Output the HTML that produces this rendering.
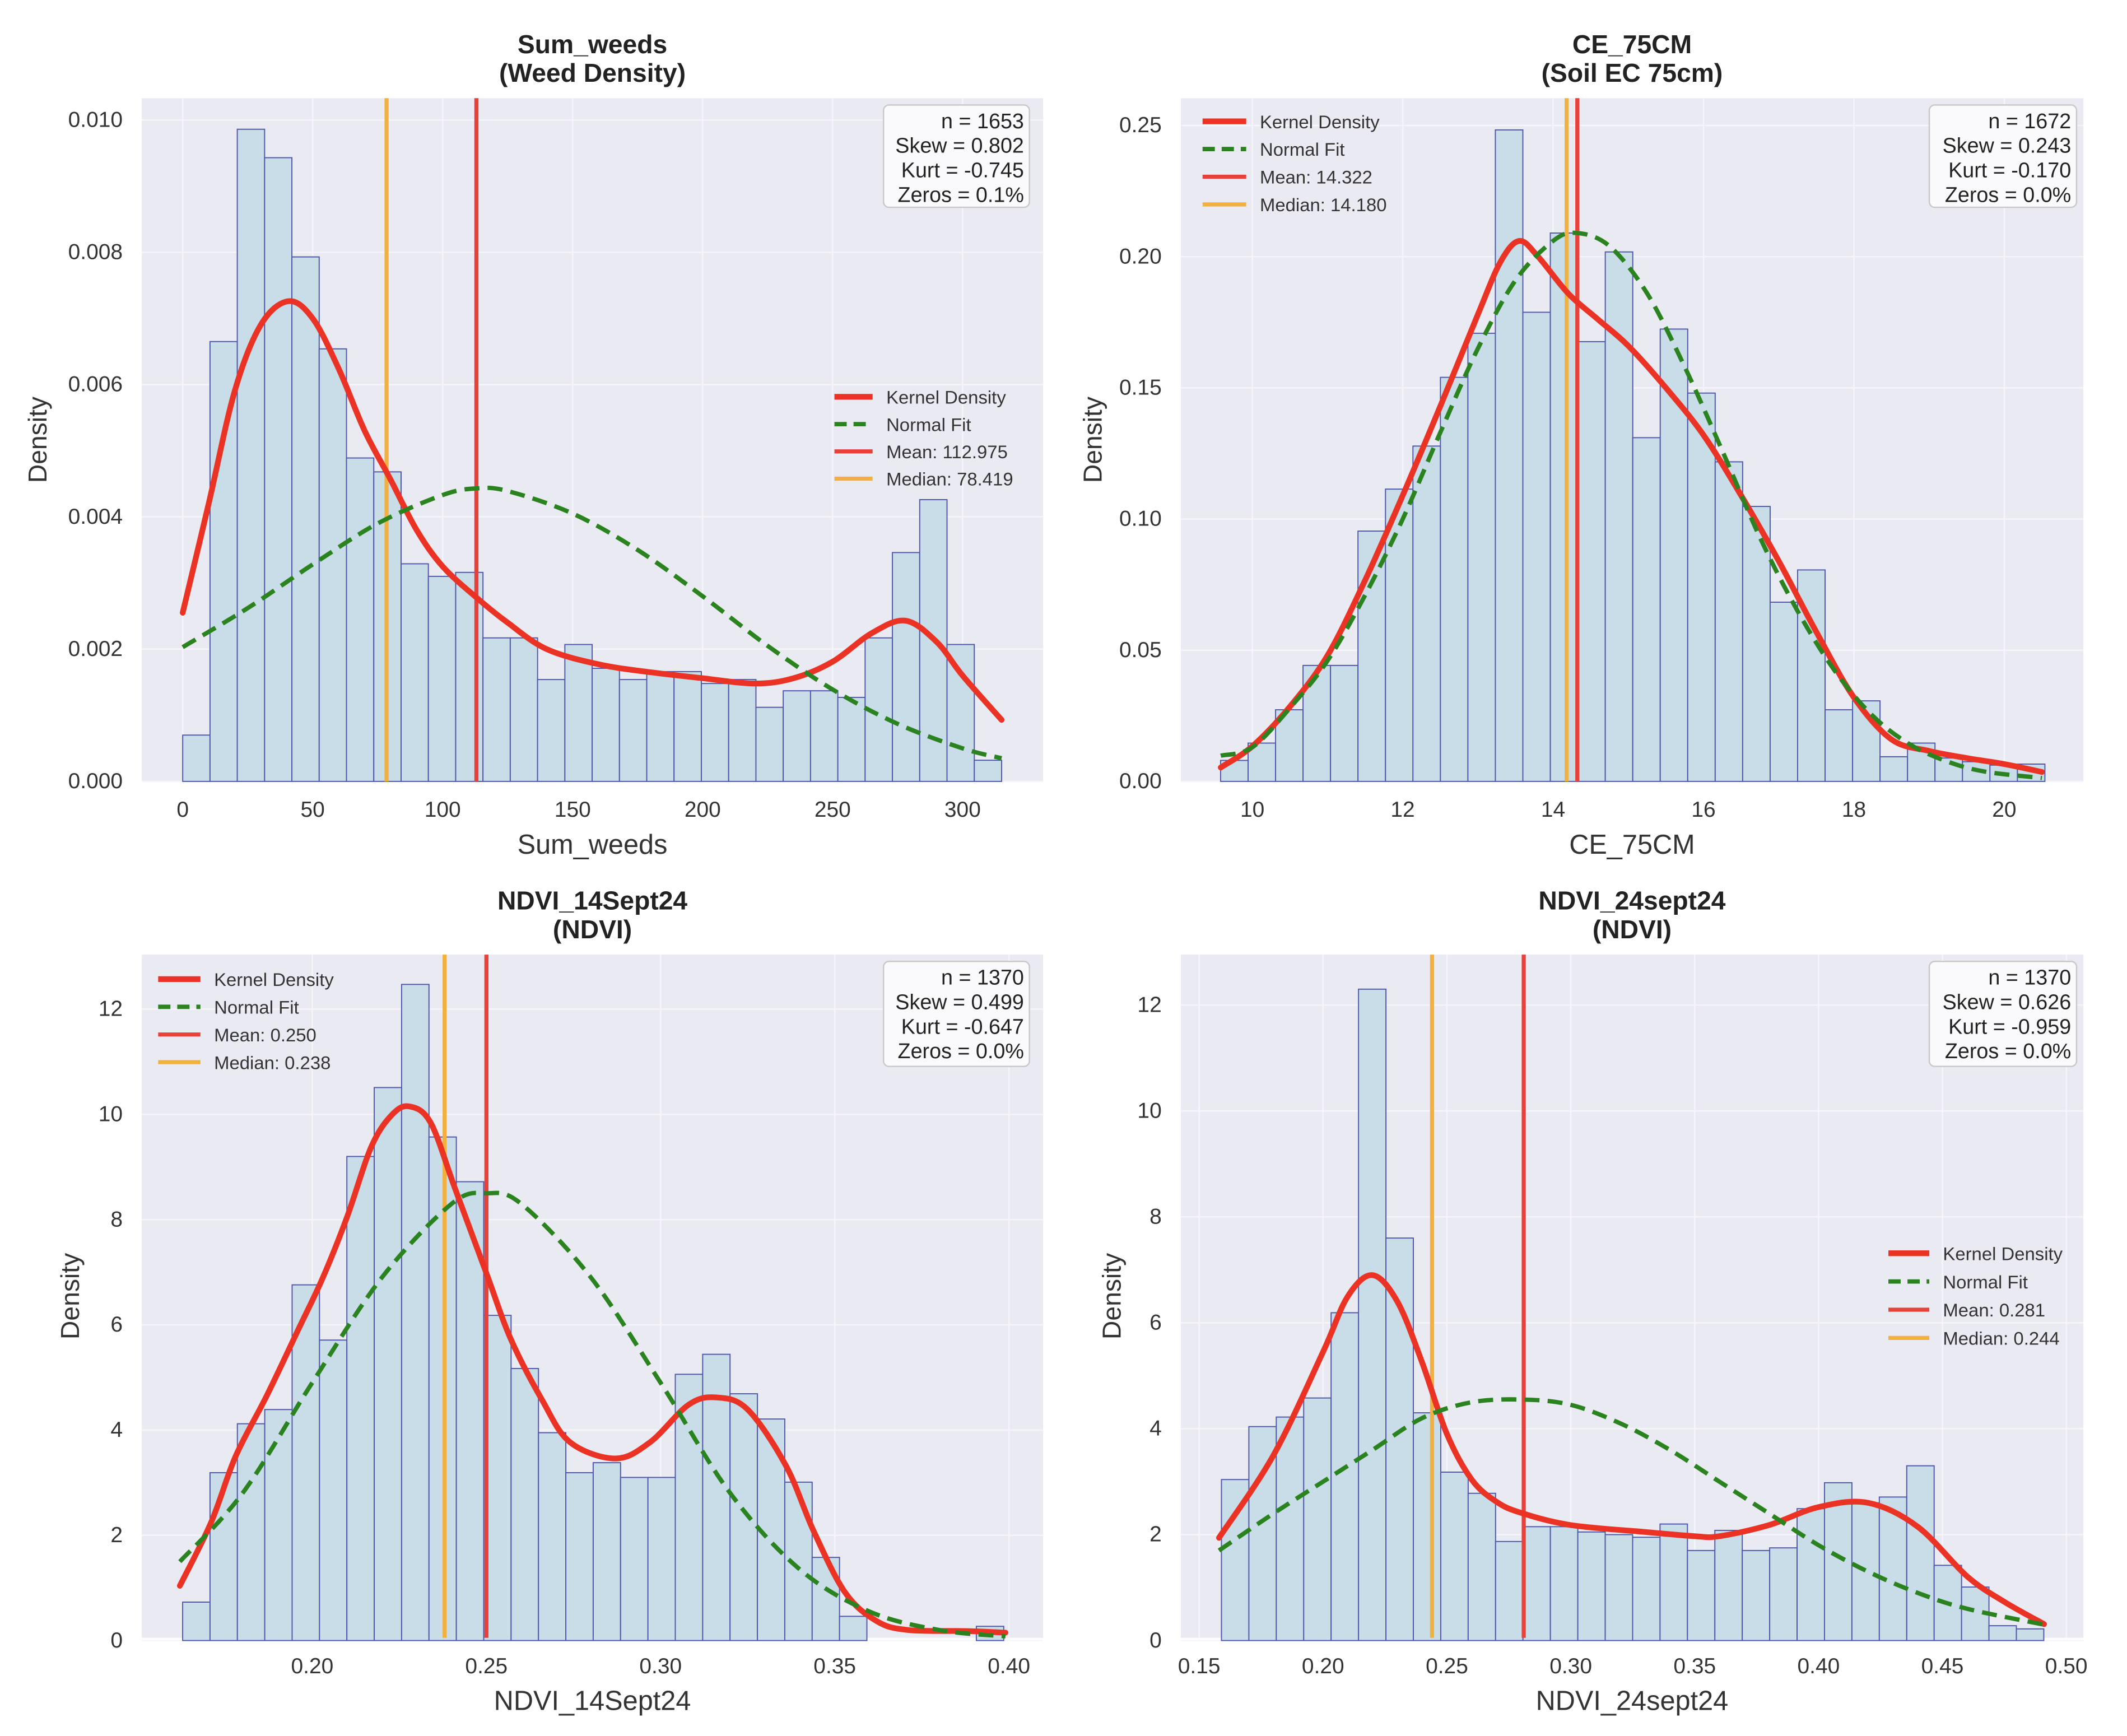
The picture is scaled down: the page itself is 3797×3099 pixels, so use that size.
<!DOCTYPE html>
<html><head><meta charset="utf-8"><style>
html,body{margin:0;padding:0;background:#fff;}
svg{display:block;font-family:"Liberation Sans",sans-serif;}
</style></head><body>
<svg id="fig" width="3797" height="3099" viewBox="0 0 1560 1273" preserveAspectRatio="none" xmlns="http://www.w3.org/2000/svg"></svg>
<script>
// ---------- Panel 1: Sum_weeds ----------
const p1Bars = [0.70,6.65,9.86,9.43,7.93,6.54,4.89,4.68,3.29,3.10,3.16,2.17,2.17,1.54,2.07,1.71,1.54,1.66,1.66,1.48,1.54,1.12,1.37,1.37,1.27,2.17,3.46,4.26,2.07,0.32];
const p1KdeX = [0,10,20,30,40.6,50,60,70,80,90,100,113,125,140,160,180,200,220,235,250,265,278,290,300,315];
const p1KdeY = [2.55,4.2,5.9,6.9,7.26,7.0,6.24,5.3,4.56,3.8,3.25,2.78,2.4,2.0,1.77,1.65,1.56,1.48,1.56,1.81,2.24,2.43,2.11,1.6,0.93];
const p1NormX = [0,25,50,75,100,113,125,150,175,200,225,250,275,300,315];
const p1NormY = [2.03,2.62,3.28,3.9,4.33,4.43,4.39,4.05,3.5,2.8,2.05,1.39,0.87,0.5,0.35];
const p1Stats = ["n = 1653","Skew = 0.802","Kurt = -0.745","Zeros = 0.1%"];
const p1Legend = ["Kernel Density","Normal Fit","Mean: 112.975","Median: 78.419"];
const p1XTicks = [0,50,100,150,200,250,300];
const p1YTicks = [0,0.002,0.004,0.006,0.008,0.010];
// ---------- Panel 2: CE_75CM ----------
const p2Bars = [0.008,0.0146,0.0273,0.0442,0.0442,0.0954,0.1114,0.1278,0.154,0.1708,0.2483,0.1788,0.209,0.1676,0.2018,0.131,0.1724,0.148,0.1218,0.1048,0.0683,0.0806,0.0273,0.0307,0.0094,0.0146,0.0089,0.0075,0.0062,0.0066];
const p2KdeX = [9.58,10,10.5,11,11.5,12,12.5,13,13.3,13.55,13.8,14.2,14.6,15,15.5,16,16.5,17,17.5,18,18.5,19,19.5,20,20.5];
const p2KdeY = [0.0053,0.0134,0.0285,0.048,0.0767,0.109,0.143,0.178,0.198,0.206,0.200,0.186,0.176,0.166,0.150,0.132,0.109,0.084,0.057,0.032,0.016,0.0116,0.0089,0.0066,0.0036];
const p2NormX = [9.58,10,10.5,11,11.5,12,12.5,13,13.5,14,14.32,14.75,15.25,15.75,16.25,16.75,17.25,17.75,18.25,18.75,19.25,19.75,20.5];
const p2NormY = [0.0098,0.013,0.028,0.046,0.071,0.10,0.133,0.165,0.191,0.206,0.209,0.204,0.186,0.158,0.126,0.093,0.065,0.042,0.025,0.014,0.0075,0.0037,0.0013];
const p2Stats = ["n = 1672","Skew = 0.243","Kurt = -0.170","Zeros = 0.0%"];
const p2Legend = ["Kernel Density","Normal Fit","Mean: 14.322","Median: 14.180"];
const p2XTicks = [10,12,14,16,18,20];
const p2YTicks = [0,0.05,0.10,0.15,0.20,0.25];
// ---------- Panel 3: NDVI_14Sept24 ----------
const p3Bars = [0.73,3.19,4.12,4.39,6.76,5.71,9.2,10.51,12.47,9.57,8.72,6.18,5.17,3.95,3.19,3.38,3.10,3.10,5.06,5.44,4.69,4.21,3.01,1.58,0.46,0,0,0,0,0.27];
const p3KdeX = [0.162,0.171,0.178,0.187,0.196,0.203,0.210,0.217,0.223,0.228,0.234,0.241,0.250,0.257,0.266,0.274,0.287,0.297,0.308,0.316,0.325,0.336,0.344,0.353,0.362,0.371,0.388,0.399];
const p3KdeY = [1.04,2.25,3.5,4.66,5.91,6.89,8.05,9.39,10.0,10.15,9.84,8.59,6.98,5.73,4.57,3.77,3.46,3.77,4.48,4.62,4.39,3.32,2.07,0.91,0.37,0.2,0.18,0.15];
const p3NormX = [0.162,0.18,0.20,0.22,0.24,0.25,0.26,0.28,0.30,0.32,0.34,0.36,0.38,0.399];
const p3NormY = [1.5,2.8,4.9,6.9,8.3,8.5,8.3,6.9,4.9,2.8,1.35,0.55,0.2,0.08];
const p3Stats = ["n = 1370","Skew = 0.499","Kurt = -0.647","Zeros = 0.0%"];
const p3Legend = ["Kernel Density","Normal Fit","Mean: 0.250","Median: 0.238"];
const p3XTicks = [0.20,0.25,0.30,0.35,0.40];
const p3YTicks = [0,2,4,6,8,10,12];
// ---------- Panel 4: NDVI_24sept24 ----------
const p4Bars = [3.04,4.04,4.22,4.58,6.19,12.3,7.6,4.3,3.18,2.78,1.87,2.15,2.15,2.05,2.0,1.95,2.2,1.70,2.08,1.70,1.75,2.49,2.98,2.6,2.71,3.30,1.42,1.01,0.28,0.22];
const p4KdeX = [0.158,0.18,0.20,0.21,0.22,0.23,0.24,0.25,0.26,0.27,0.28,0.30,0.33,0.35,0.36,0.38,0.40,0.42,0.44,0.46,0.475,0.491];
const p4KdeY = [1.94,3.5,5.45,6.5,6.9,6.4,5.25,3.9,3.04,2.62,2.41,2.18,2.05,1.97,1.97,2.18,2.52,2.6,2.15,1.21,0.73,0.31];
const p4NormX = [0.158,0.18,0.20,0.22,0.24,0.26,0.281,0.30,0.32,0.34,0.36,0.38,0.40,0.42,0.44,0.46,0.491];
const p4NormY = [1.7,2.4,3.0,3.6,4.2,4.5,4.55,4.45,4.1,3.6,3.0,2.4,1.8,1.3,0.9,0.6,0.3];
const p4Stats = ["n = 1370","Skew = 0.626","Kurt = -0.959","Zeros = 0.0%"];
const p4Legend = ["Kernel Density","Normal Fit","Mean: 0.281","Median: 0.244"];
const p4XTicks = [0.15,0.20,0.25,0.30,0.35,0.40,0.45,0.50];
const p4YTicks = [0,2,4,6,8,10,12];

const NS = "http://www.w3.org/2000/svg";
const svg = document.getElementById('fig');
function mk(tag, attrs, parent, text){
  const e = document.createElementNS(NS, tag);
  for (const k in attrs) e.setAttribute(k, attrs[k]);
  if (text !== undefined) e.textContent = text;
  (parent||svg).appendChild(e);
  return e;
}
function linmap(d0,d1,r0,r1){ return v => r0 + (v-d0)*(r1-r0)/(d1-d0); }

function panel(cfg){
  const g = mk('g', {});
  
  
  const xs = linmap(cfg.xd[0], cfg.xd[1], cfg.xr[0], cfg.xr[1]);
  const ys = linmap(cfg.yd[0], cfg.yd[1], cfg.yr[0], cfg.yr[1]);
  const L=cfg.box[0], T=cfg.box[1], R=cfg.box[2], B=cfg.box[3];
  const bg = mk('rect', {x:L,y:T,width:R-L,height:B-T,fill:'#eaeaf2'}, g);
  
  
  cfg.xTicks.forEach(t=>{
    const gl = mk('line',{x1:xs(t),x2:xs(t),y1:T,y2:B,stroke:'#f6f6fa','stroke-width':1}, g);
    
    
    const tl = mk('text',{x:xs(t),y:B+26,'font-size':16,fill:'#333','text-anchor':'middle'}, g, cfg.xfmt(t));
    
    
  });
  cfg.yTicks.forEach(t=>{
    const gl = mk('line',{x1:L,x2:R,y1:ys(t),y2:ys(t),stroke:'#f6f6fa','stroke-width':1}, g);
    
    
    const tl = mk('text',{x:L-14,y:ys(t)+5,'font-size':16,fill:'#333','text-anchor':'end'}, g, cfg.yfmt(t));
    
    
  });
  const bw = (cfg.binEnd - cfg.binStart)/cfg.bars.length;
  cfg.bars.forEach((v,i)=>{
    if (v<=0) return;
    const x0 = xs(cfg.binStart + i*bw), x1 = xs(cfg.binStart + (i+1)*bw);
    const r = mk('rect',{x:x0,y:ys(v),width:x1-x0,height:ys(0)-ys(v),fill:'#c9dde9',stroke:'#5158a8','stroke-width':0.8}, g);
    
    
  });
  function smooth(X,Y){
    const P = X.map((x,i)=>[xs(x),ys(Y[i])]);
    let d = 'M'+P[0][0]+','+P[0][1];
    for (let i=0;i<P.length-1;i++){
      const p0=P[Math.max(0,i-1)],p1=P[i],p2=P[i+1],p3=P[Math.min(P.length-1,i+2)];
      const c1=[p1[0]+(p2[0]-p0[0])/6,p1[1]+(p2[1]-p0[1])/6];
      const c2=[p2[0]-(p3[0]-p1[0])/6,p2[1]-(p3[1]-p1[1])/6];
      d+=' C'+c1[0].toFixed(2)+','+c1[1].toFixed(2)+' '+c2[0].toFixed(2)+','+c2[1].toFixed(2)+' '+p2[0].toFixed(2)+','+p2[1].toFixed(2);
    }
    return d;
  }
  const med = mk('line',{x1:xs(cfg.median),x2:xs(cfg.median),y1:T,y2:B,stroke:'#f2b13f','stroke-width':3}, g);
  
  
  const mn = mk('line',{x1:xs(cfg.mean),x2:xs(cfg.mean),y1:T,y2:B,stroke:'#e8413a','stroke-width':3}, g);
  
  
  const kd = mk('path',{d:smooth(cfg.kdeX,cfg.kdeY),fill:'none',stroke:'#ea3324','stroke-width':4.2,'stroke-linecap':'round'}, g);
  
  
  const nf = mk('path',{d:smooth(cfg.normX,cfg.normY),fill:'none',stroke:'#2b8320','stroke-width':3.2,'stroke-dasharray':'11,6'}, g);
  
  
  const t1 = mk('text',{x:(L+R)/2,y:T-33,'font-size':19,'font-weight':'bold',fill:'#222','text-anchor':'middle'}, g, cfg.title1);
  
  
  const t2 = mk('text',{x:(L+R)/2,y:T-12,'font-size':19,'font-weight':'bold',fill:'#222','text-anchor':'middle'}, g, cfg.title2);
  
  
  const xl = mk('text',{x:(L+R)/2,y:B+53,'font-size':20,fill:'#333','text-anchor':'middle'}, g, cfg.xlabel);
  
  
  const yl = mk('text',{x:0,y:0,'font-size':19,fill:'#333','text-anchor':'middle',transform:'translate('+cfg.ylabX+','+((T+B)/2)+') rotate(-90)'}, g, 'Density');
  
  
  const sb = cfg.statsBox;
  const sr = mk('rect',{x:sb[0],y:sb[1],width:sb[2],height:sb[3],rx:4,fill:'#fafafc',stroke:'#c8c8c8','stroke-width':1}, g);
  
  
  cfg.stats.forEach((s,i)=>{
    const st = mk('text',{x:sb[0]+sb[2]-4,y:sb[1]+17+i*18,'font-size':15.5,fill:'#222','text-anchor':'end'}, g, s);
    
    
  });
  const lg = cfg.legend;
  const colors=['#ea3324','#2b8320','#e8413a','#f2b13f'];
  const widths=[4.2,3.2,3,3];
  cfg.legendText.forEach((s,i)=>{
    const yy = lg[1]+i*lg[3];
    const ln = mk('line',{x1:lg[0],x2:lg[0]+lg[2],y1:yy,y2:yy,stroke:colors[i],'stroke-width':widths[i]}, g);
    if (i===1) ln.setAttribute('stroke-dasharray','9,5');
    
    
    const lt = mk('text',{x:lg[0]+lg[2]+10,y:yy+5,'font-size':13.5,fill:'#333'}, g, s);
    
    
  });
}

panel({id:'sum-weeds',box:[104,72,765,573],xd:[0,300],xr:[134,706],yd:[0,0.010],yr:[573,88],
  bars:p1Bars.map(v=>v/1000),binStart:0,binEnd:315,kdeX:p1KdeX,kdeY:p1KdeY.map(v=>v/1000),normX:p1NormX,normY:p1NormY.map(v=>v/1000),
  mean:112.975,median:78.419,xTicks:p1XTicks,yTicks:p1YTicks,xfmt:t=>String(t),yfmt:t=>t.toFixed(3),
  title1:'Sum_weeds',title2:'(Weed Density)',xlabel:'Sum_weeds',ylabX:34,
  stats:p1Stats,statsBox:[648,77,107,75],legendText:p1Legend,legend:[612,291,28,20]});
panel({id:'ce-75cm',box:[866,72,1528,573],xd:[10,20],xr:[918.5,1470],yd:[0,0.25],yr:[573,92],
  bars:p2Bars,binStart:9.578,binEnd:20.54,kdeX:p2KdeX,kdeY:p2KdeY,normX:p2NormX,normY:p2NormY,
  mean:14.322,median:14.180,xTicks:p2XTicks,yTicks:p2YTicks,xfmt:t=>String(t),yfmt:t=>t.toFixed(2),
  title1:'CE_75CM',title2:'(Soil EC 75cm)',xlabel:'CE_75CM',ylabX:808,
  stats:p2Stats,statsBox:[1415,77,108,75],legendText:p2Legend,legend:[882,89,32,20.3]});
panel({id:'ndvi-14sept24',box:[104,700,765,1201],xd:[0.20,0.40],xr:[229,740],yd:[0,12],yr:[1203,740],
  bars:p3Bars,binStart:0.1628,binEnd:0.3985,kdeX:p3KdeX,kdeY:p3KdeY,normX:p3NormX,normY:p3NormY,
  mean:0.250,median:0.238,xTicks:p3XTicks,yTicks:p3YTicks,xfmt:t=>t.toFixed(2),yfmt:t=>String(t),
  title1:'NDVI_14Sept24',title2:'(NDVI)',xlabel:'NDVI_14Sept24',ylabX:58,
  stats:p3Stats,statsBox:[648,705,107,77],legendText:p3Legend,legend:[116,718,31,20.3]});
panel({id:'ndvi-24sept24',box:[866,700,1528,1201],xd:[0.15,0.50],xr:[879.5,1515.5],yd:[0,12],yr:[1203,737],
  bars:p4Bars,binStart:0.159,binEnd:0.4909,kdeX:p4KdeX,kdeY:p4KdeY,normX:p4NormX,normY:p4NormY,
  mean:0.281,median:0.244,xTicks:p4XTicks,yTicks:p4YTicks,xfmt:t=>t.toFixed(2),yfmt:t=>String(t),
  title1:'NDVI_24sept24',title2:'(NDVI)',xlabel:'NDVI_24sept24',ylabX:822,
  stats:p4Stats,statsBox:[1415,705,108,77],legendText:p4Legend,legend:[1385,919,30,20.7]});
</script>
</body></html>
